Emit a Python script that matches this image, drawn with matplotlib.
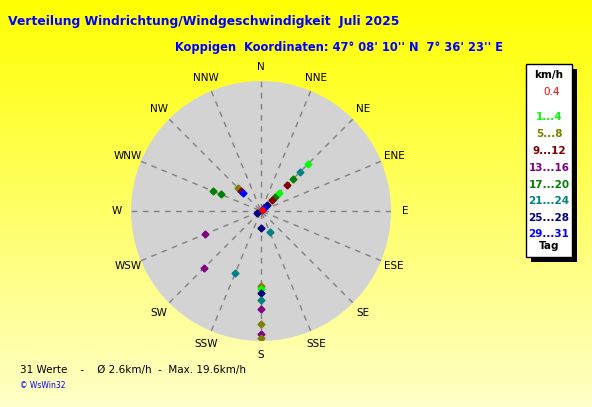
import numpy as np
import matplotlib
matplotlib.use("Agg")
import matplotlib.pyplot as plt
from matplotlib.patches import Rectangle
from matplotlib.colors import LinearSegmentedColormap

dirs = ["N","NNE","NE","ENE","E","ESE","SE","SSE","S","SSW","SW","WSW","W","WNW","NW","NNW"]
# observations: direction, speed km/h, colour class
obs_dir = ["NE","NE","NE","NE","NE","NE","NE","NE","NE","NE","NE",
           "WNW","WNW","NW","NW","NW","WSW","S","SSE","WSW","SW","SSW",
           "S","S","S","S","S","S","S","S"]
obs_speed = [10.3,8.5,7.0,5.7,4.0,3.0,2.4,1.3,0.7,0.4,0.3,
             8.0,6.8,5.0,4.4,4.0,0.7,2.6,3.6,9.5,12.5,10.4,
             11.6,12.1,12.7,13.8,15.3,17.5,19.1,19.8]
obs_class = [1,6,5,3,1,5,3,7,8,8,0,
             5,5,2,3,8,7,7,6,4,4,6,
             2,1,7,6,4,2,4,2]
class_labels = ["0.4","1...4","5...8","9...12","13...16","17...20","21...24","25...28","29...31"]
class_colors = ["#ff0000","#00ff00","#808000","#800000","#800080","#008000","#008080","#000080","#0000ff"]

W,H = 592,407
fig = plt.figure(figsize=(W/100,H/100),dpi=100)
bg = fig.add_axes([0,0,1,1]); bg.axis("off")
grad = np.linspace(0,1,256)[:,None]
cm = LinearSegmentedColormap.from_list("y",["#ffff00","#ffffc8"])
bg.imshow(grad,aspect="auto",cmap=cm,extent=[0,W,H,0])
bg.set_xlim(0,W); bg.set_ylim(H,0)

cx,cy,R = 261,211,130
ax = fig.add_axes([(cx-R)/W,(H-cy-R)/H,2*R/W,2*R/H],projection="polar")
ax.set_theta_zero_location("N"); ax.set_theta_direction(-1)
ax.set_facecolor("#d3d3d3")
ax.set_ylim(0,20.2)
ax.set_xticks([]); ax.set_yticks([])
ax.spines["polar"].set_visible(False)
for i in range(16):
    t = np.deg2rad(i*22.5)
    ax.plot([t,t],[0.3,20.2],ls=(0,(4,4)),color="#808080",lw=1)
for d,s,c in zip(obs_dir,obs_speed,obs_class):
    t = np.deg2rad(dirs.index(d)*22.5)
    ax.plot(t,s,marker="D",ms=3.5,color=class_colors[c],mec=class_colors[c])

for i,d in enumerate(dirs):
    a = np.deg2rad(i*22.5)
    r = R+14
    bg.text(cx+r*np.sin(a),cy-r*np.cos(a),d,ha="center",va="center",fontsize=7.5,color="#000000")

bg.text(8,22,"Verteilung Windrichtung/Windgeschwindigkeit  Juli 2025",color="#0000ff",fontsize=8.9,fontweight="bold",va="center")
bg.text(503,47,"Koppigen  Koordinaten: 47° 08' 10'' N  7° 36' 23'' E",color="#0000ff",fontsize=8.3,fontweight="bold",va="center",ha="right")
bg.text(20,370,"31 Werte    -    Ø 2.6km/h  -  Max. 19.6km/h",fontsize=7.5,va="center")
bg.text(20,386,"© WsWin32",fontsize=5.5,color="#0000ff",va="center")

bg.add_patch(Rectangle((531,69),46,193,facecolor="#000000"))
bg.add_patch(Rectangle((526,64),46,193,facecolor="white",edgecolor="black",lw=1))
bg.text(549,75,"km/h",ha="center",va="center",fontsize=7.5,fontweight="bold")
ys = [92,117,134,151,168,185,201,218,234]
for y,l,c in zip(ys,class_labels,class_colors):
    bg.text(549 if l!="0.4" else 552,y,l,ha="center",va="center",fontsize=7.5,fontweight="bold" if l!="0.4" else "normal",color=c)
bg.text(549,246,"Tag",ha="center",va="center",fontsize=7.5,fontweight="bold")
fig.savefig("out.png",dpi=100)
